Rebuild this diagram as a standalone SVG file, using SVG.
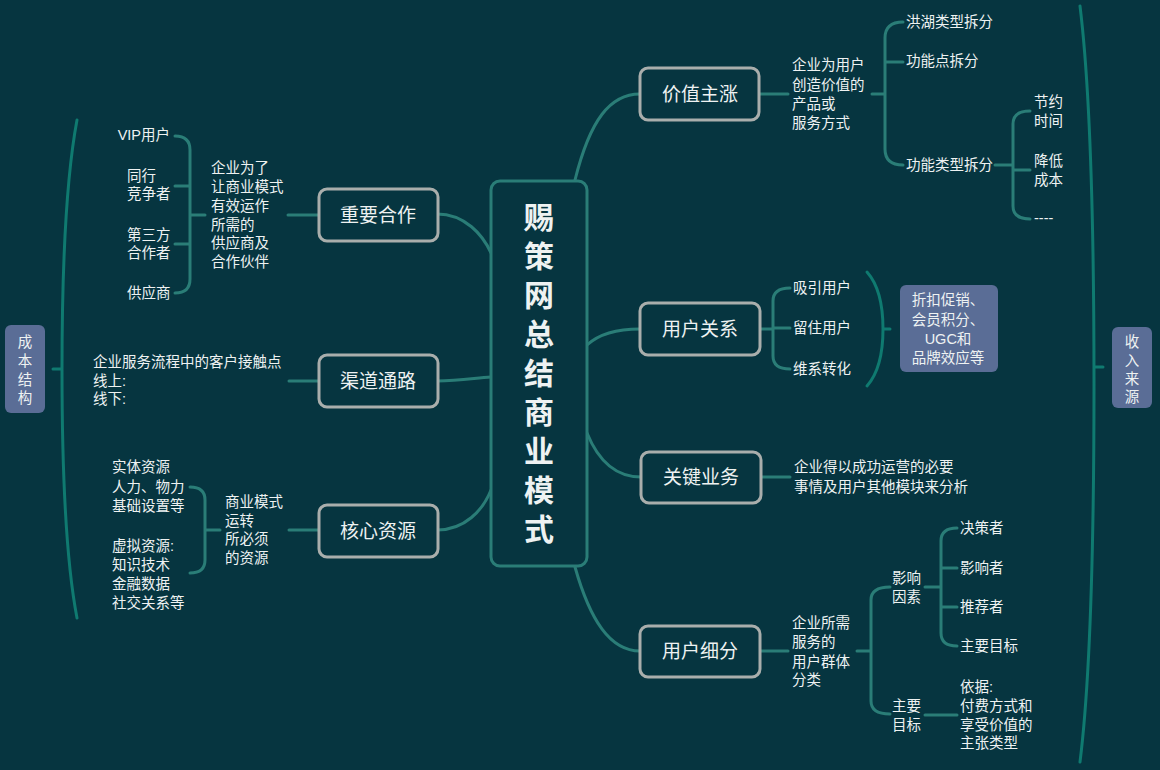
<svg xmlns="http://www.w3.org/2000/svg" width="1160" height="770" viewBox="0 0 1160 770">
<style>
.ln{fill:none;stroke:#2A7D77;stroke-width:3;stroke-linecap:round}
.br{fill:none;stroke:#0F7A70;stroke-width:3;stroke-linecap:round}
.nd{fill:#063540;stroke:#A9AEAC;stroke-width:3}
.sum{fill:#5A6D96}
text{font-family:'Liberation Sans','Noto Sans CJK SC',sans-serif;fill:#EEF2F2;dominant-baseline:central}
.t{font-size:14.5px}
.nt{font-size:19px;text-anchor:middle}
.ct{font-size:30px;font-weight:bold;text-anchor:middle}
.m{text-anchor:middle}
</style>
<rect width="1160" height="770" fill="#063540"/>
<g id="connectors">
<path class="ln" d="M575,180 C590,120 610,94 640,94"/>
<path class="ln" d="M587,345 C600,333 620,329 640,329"/>
<path class="ln" d="M587,433 C600,465 620,477 641,477"/>
<path class="ln" d="M575,567 C590,620 610,651 640,651"/>
<path class="ln" d="M437,214 C465,214 483,235 491,253"/>
<path class="ln" d="M437,381 C460,381 475,378 491,377"/>
<path class="ln" d="M437,530 C465,530 483,510 491,490"/>
<path class="ln" d="M288,215 L319,215 M190,215 L205,215 M175,136 Q190,136 190,150 L190,279 Q190,293 175,293 M175,186 L190,186 M175,244 L190,244"/>
<path class="ln" d="M289,381 L319,381"/>
<path class="ln" d="M289,530 L319,530 M205,530 L220,530 M190,487 Q205,487 205,500 L205,560 Q205,573 190,573"/>
<path class="ln" d="M760,94 L788,94 M872,94 L885,94 M903,22 Q885,22 885,38 L885,149 Q885,165 903,165 M885,62 L903,62"/>
<path class="ln" d="M995,165 L1013,165 M1030,111 Q1013,111 1013,124 L1013,206 Q1013,219 1030,219 M1013,170 L1030,170"/>
<path class="ln" d="M760,329 L773,329 M790,288 Q773,288 773,301 L773,356 Q773,369 790,369 M773,328 L790,328"/>
<path class="br" d="M867,272 Q883,290 883,329 Q883,368 867,386 M883,329 L890,329"/>
<path class="ln" d="M762,477 L790,477"/>
<path class="ln" d="M760,651 L788,651 M857,651 L871,651 M890,587 Q871,587 871,600 L871,701 Q871,714 890,714"/>
<path class="ln" d="M925,587 L941,587 M957,528 Q941,528 941,541 L941,633 Q941,646 957,646 M941,568 L957,568 M941,607 L957,607"/>
<path class="ln" d="M925,715 L957,715"/>
<path class="br" d="M77,120 Q62,200 62,370 Q62,540 77,618 M53,369 L62,369"/>
<path class="br" d="M1080,6 Q1094,120 1094,384 Q1094,650 1080,762 M1094,367 L1103,367"/>
</g>
<g id="center">
<rect x="491" y="181" width="96" height="385" rx="9" fill="#063540" stroke="#2A7D77" stroke-width="3"/>
<text class="ct" x="539" y="217">赐</text>
<text class="ct" x="539" y="256">策</text>
<text class="ct" x="539" y="295">网</text>
<text class="ct" x="539" y="334">总</text>
<text class="ct" x="539" y="373">结</text>
<text class="ct" x="539" y="412">商</text>
<text class="ct" x="539" y="451">业</text>
<text class="ct" x="539" y="490">模</text>
<text class="ct" x="539" y="529">式</text>
</g>
<g id="n-zhongyao">
<rect class="nd" x="319" y="189" width="119" height="52" rx="8"/>
<text class="nt" x="378" y="215">重要合作</text>
<text class="t" x="211" y="168">企业为了</text>
<text class="t" x="211" y="187">让商业模式</text>
<text class="t" x="211" y="206">有效运作</text>
<text class="t" x="211" y="225">所需的</text>
<text class="t" x="211" y="243">供应商及</text>
<text class="t" x="211" y="262">合作伙伴</text>
<text class="t" x="170" y="135" text-anchor="end">VIP用户</text>
<text class="t" x="127" y="176">同行</text>
<text class="t" x="127" y="194">竞争者</text>
<text class="t" x="127" y="235">第三方</text>
<text class="t" x="127" y="253">合作者</text>
<text class="t" x="127" y="293">供应商</text>
</g>
<g id="n-qudao">
<rect class="nd" x="319" y="355" width="119" height="52" rx="8"/>
<text class="nt" x="378" y="381">渠道通路</text>
<text class="t" x="93" y="362">企业服务流程中的客户接触点</text>
<text class="t" x="93" y="381">线上:</text>
<text class="t" x="93" y="399">线下:</text>
</g>
<g id="n-hexin">
<rect class="nd" x="319" y="505" width="119" height="52" rx="8"/>
<text class="nt" x="378" y="531">核心资源</text>
<text class="t" x="225" y="502">商业模式</text>
<text class="t" x="225" y="521">运转</text>
<text class="t" x="225" y="539">所必须</text>
<text class="t" x="225" y="558">的资源</text>
<text class="t" x="112" y="467">实体资源</text>
<text class="t" x="112" y="487">人力、物力</text>
<text class="t" x="112" y="506">基础设置等</text>
<text class="t" x="112" y="546">虚拟资源:</text>
<text class="t" x="112" y="565">知识技术</text>
<text class="t" x="112" y="584">金融数据</text>
<text class="t" x="112" y="603">社交关系等</text>
</g>
<g id="n-chengben">
<rect class="sum" x="5" y="325" width="40" height="88" rx="6"/>
<text class="t m" x="25" y="342">成</text>
<text class="t m" x="25" y="361">本</text>
<text class="t m" x="25" y="380">结</text>
<text class="t m" x="25" y="398">构</text>
</g>
<g id="n-jiazhi">
<rect class="nd" x="640" y="68" width="119" height="52" rx="8"/>
<text class="nt" x="700" y="94">价值主涨</text>
<text class="t" x="792" y="65">企业为用户</text>
<text class="t" x="792" y="85">创造价值的</text>
<text class="t" x="792" y="104">产品或</text>
<text class="t" x="792" y="123">服务方式</text>
<text class="t" x="906" y="22">洪湖类型拆分</text>
<text class="t" x="906" y="61">功能点拆分</text>
<text class="t" x="906" y="165">功能类型拆分</text>
<text class="t" x="1034" y="102">节约</text>
<text class="t" x="1034" y="121">时间</text>
<text class="t" x="1034" y="161">降低</text>
<text class="t" x="1034" y="180">成本</text>
<text class="t" x="1034" y="218">----</text>
</g>
<g id="n-guanxi">
<rect class="nd" x="640" y="303" width="120" height="52" rx="8"/>
<text class="nt" x="700" y="329">用户关系</text>
<text class="t" x="793" y="288">吸引用户</text>
<text class="t" x="793" y="328">留住用户</text>
<text class="t" x="793" y="369">维系转化</text>
<rect class="sum" x="900" y="285" width="98" height="87" rx="6"/>
<text class="t m" x="948" y="300">折扣促销、</text>
<text class="t m" x="948" y="320">会员积分、</text>
<text class="t m" x="948" y="339">UGC和</text>
<text class="t m" x="948" y="358">品牌效应等</text>
</g>
<g id="n-guanjian">
<rect class="nd" x="641" y="452" width="120" height="51" rx="8"/>
<text class="nt" x="701" y="477">关键业务</text>
<text class="t" x="794" y="467">企业得以成功运营的必要</text>
<text class="t" x="794" y="487">事情及用户其他模块来分析</text>
</g>
<g id="n-xifen">
<rect class="nd" x="640" y="626" width="120" height="51" rx="8"/>
<text class="nt" x="700" y="651">用户细分</text>
<text class="t" x="792" y="623">企业所需</text>
<text class="t" x="792" y="642">服务的</text>
<text class="t" x="792" y="662">用户群体</text>
<text class="t" x="792" y="680">分类</text>
<text class="t" x="892" y="578">影响</text>
<text class="t" x="892" y="597">因素</text>
<text class="t" x="892" y="706">主要</text>
<text class="t" x="892" y="725">目标</text>
<text class="t" x="960" y="528">决策者</text>
<text class="t" x="960" y="568">影响者</text>
<text class="t" x="960" y="607">推荐者</text>
<text class="t" x="960" y="646">主要目标</text>
<text class="t" x="960" y="687">依据:</text>
<text class="t" x="960" y="706">付费方式和</text>
<text class="t" x="960" y="725">享受价值的</text>
<text class="t" x="960" y="743">主张类型</text>
</g>
<g id="n-shouru">
<rect class="sum" x="1112" y="327" width="40" height="81" rx="6"/>
<text class="t m" x="1132" y="342">收</text>
<text class="t m" x="1132" y="361">入</text>
<text class="t m" x="1132" y="379">来</text>
<text class="t m" x="1132" y="397">源</text>
</g>
</svg>
